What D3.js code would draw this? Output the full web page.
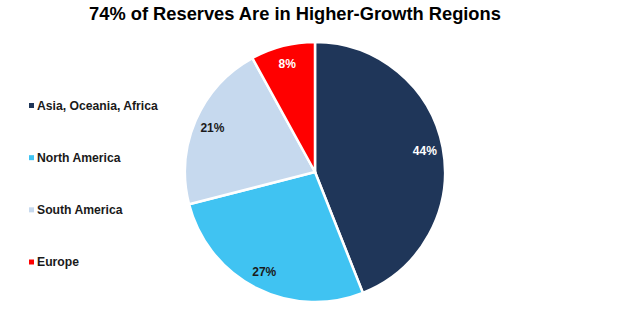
<!DOCTYPE html>
<html><head><meta charset="utf-8">
<script src="https://cdn.jsdelivr.net/npm/d3@7"></script>
<style>body{margin:0;background:#fff;font-family:"Liberation Sans",Arial,sans-serif;}</style>
</head><body><svg id="c" width="630" height="336"></svg>
<script>
const categories = ["Asia, Oceania, Africa", "North America", "South America", "Europe"];
const values = [44, 27, 21, 8];
const colors = ["#1F3659", "#40C3F2", "#C6D9EE", "#FF0000"];
const labelColors = ["#ffffff", "#1a1a1a", "#1a1a1a", "#ffffff"];
const title = "74% of Reserves Are in Higher-Growth Regions";

const svg = d3.select("#c");
svg.append("text").attr("x", 295).attr("y", 20).attr("text-anchor", "middle")
  .attr("font-weight", "bold").attr("font-size", 18.3).attr("fill", "#000").text(title);

const cx = 315, cy = 172, r = 130;
const data = categories.map((c, i) => ({cat: c, value: values[i], i}));
const pie = d3.pie().value(d => d.value).sort(null);
const arc = d3.arc().innerRadius(0).outerRadius(r);
const labelArc = d3.arc().innerRadius(r * 0.86).outerRadius(r * 0.86);
const g = svg.append("g").attr("transform", `translate(${cx},${cy})`);
const arcs = pie(data);
g.selectAll("path").data(arcs).join("path")
  .attr("d", arc).attr("fill", d => colors[d.data.i])
  .attr("stroke", "#fff").attr("stroke-width", 2.5);
g.selectAll("text").data(arcs).join("text")
  .attr("transform", d => `translate(${labelArc.centroid(d)})`)
  .attr("text-anchor", "middle").attr("dy", "0.35em")
  .attr("font-weight", "bold").attr("font-size", 12)
  .attr("fill", d => labelColors[d.data.i])
  .text(d => d.data.value + "%");

const y = d3.scalePoint().domain(categories).range([105.5, 262]);
const leg = svg.append("g").selectAll("g").data(categories).join("g")
  .attr("transform", d => `translate(29,${y(d)})`);
leg.append("rect").attr("x", 0).attr("y", -2.5).attr("width", 5).attr("height", 5)
  .attr("fill", (d, i) => colors[i]);
leg.append("text").attr("x", 8).attr("dy", "0.35em").attr("font-weight", "bold")
  .attr("font-size", 12.2).attr("fill", "#1a1a1a").text(d => d);
</script></body></html>
